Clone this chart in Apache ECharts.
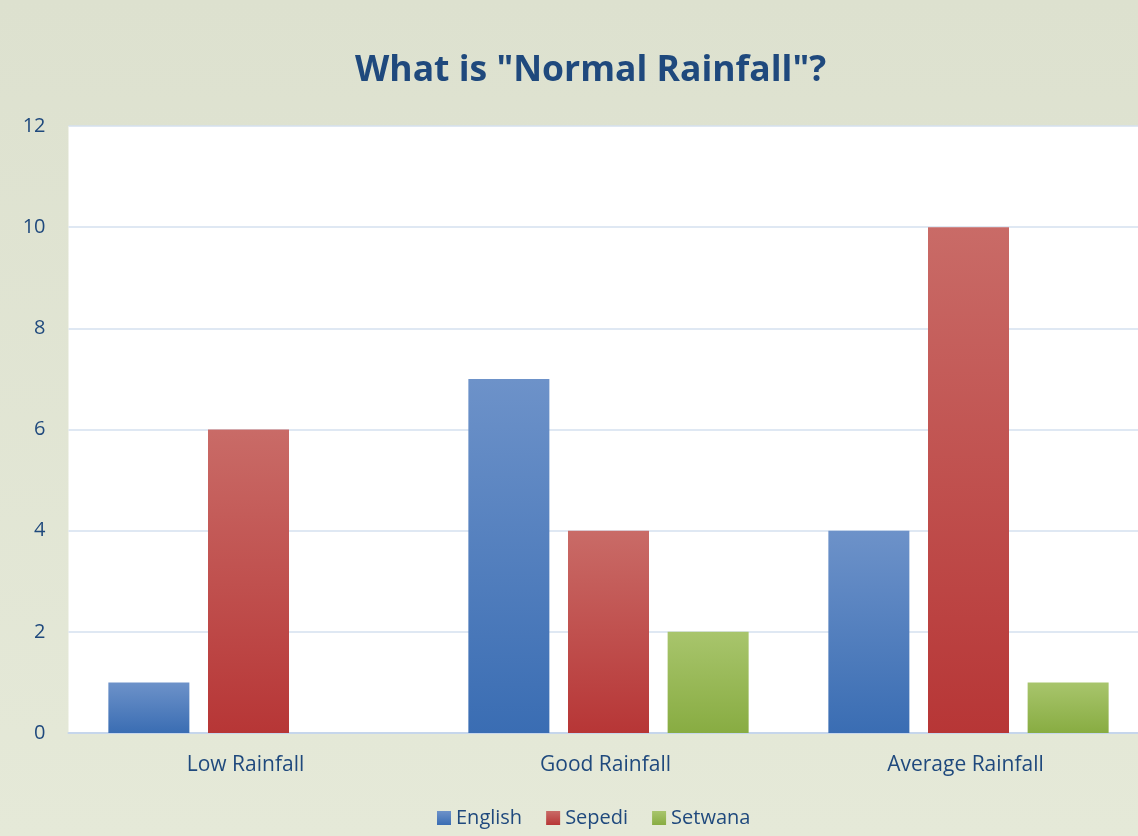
<!DOCTYPE html>
<html><head><meta charset="utf-8">
<script src="https://cdn.jsdelivr.net/npm/echarts@6/dist/echarts.min.js"></script>
<style>html,body{margin:0;padding:0;}#c{width:1138px;height:836px;}</style>
</head><body><div id="c"></div>
<script>
const categories = ["Low Rainfall", "Good Rainfall", "Average Rainfall"];
const english = [1, 7, 4];
const sepedi = [6, 4, 10];
const setwana = [0, 2, 1];
const yTicks = { min: 0, max: 12, interval: 2 };

const textColor = '#1f497d';
function grad(top, bottom) {
  return new echarts.graphic.LinearGradient(0, 0, 0, 1, [
    { offset: 0, color: top }, { offset: 1, color: bottom }
  ]);
}
const chart = echarts.init(document.getElementById('c'));
chart.setOption({
  backgroundColor: new echarts.graphic.LinearGradient(0, 0, 0, 1, [
    { offset: 0, color: '#dde1cf' }, { offset: 1, color: '#e5e9d8' }
  ]),
  title: {
    text: 'What is "Normal Rainfall"?',
    left: 350, top: 48,
    textStyle: { color: textColor, fontSize: 35.5, fontWeight: 'bold', fontFamily: 'Open Sans' }
  },
  legend: {
    bottom: 3, left: 432,
    itemWidth: 14, itemHeight: 14, itemGap: 24,
    icon: 'rect',
    textStyle: { color: textColor, fontSize: 20, fontFamily: 'Open Sans', padding: [0, 0, 0, 0] },
    data: ['English', 'Sepedi', 'Setwana']
  },
  grid: { left: 68.5, width: 1080, top: 126, bottom: 103, containLabel: false, outerBoundsMode: 'none',
    backgroundColor: '#ffffff', show: true, borderWidth: 0 },
  xAxis: {
    type: 'category', data: categories,
    axisLine: { show: true, lineStyle: { color: '#c6d6ec', width: 2 } },
    axisTick: { show: false },
    axisLabel: { color: textColor, fontSize: 21, fontFamily: 'Open Sans', margin: 22, padding: [0, 6, 0, 0] }
  },
  yAxis: {
    type: 'value', min: yTicks.min, max: yTicks.max, interval: yTicks.interval,
    axisLine: { show: false }, axisTick: { show: false },
    splitLine: { lineStyle: { color: '#d4e0ef', width: 1.5 } },
    axisLabel: { color: textColor, fontSize: 20, fontFamily: 'Open Sans', margin: 23 }
  },
  series: [
    { name: 'English', type: 'bar', data: english, barWidth: 81, barGap: '23%',
      itemStyle: { color: grad('#6d92c9', '#3a6db3') } },
    { name: 'Sepedi', type: 'bar', data: sepedi, barWidth: 81, barGap: '23%',
      itemStyle: { color: grad('#c96b67', '#b73636') } },
    { name: 'Setwana', type: 'bar', data: setwana, barWidth: 81, barGap: '23%',
      itemStyle: { color: grad('#a8c56c', '#88ac42') } }
  ]
});
</script></body></html>
